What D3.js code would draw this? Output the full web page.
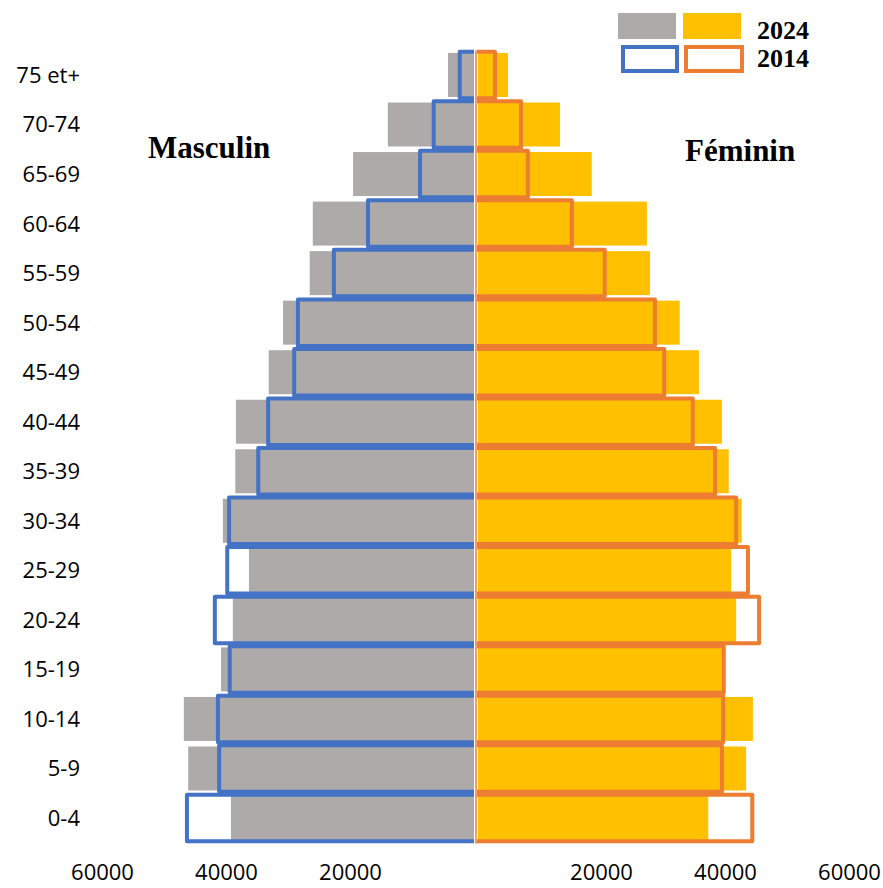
<!DOCTYPE html>
<html>
<head>
<meta charset="utf-8">
<script src="https://cdn.jsdelivr.net/npm/d3@7"></script>
<style>
  body { margin: 0; background: #fff; }
  svg { display: block; }
</style>
</head>
<body>
<svg id="chart" width="883" height="888"></svg>
<script>
// age groups, bottom to top
const ageGroups = ["0-4", "5-9", "10-14", "15-19", "20-24", "25-29", "30-34", "35-39",
  "40-44", "45-49", "50-54", "55-59", "60-64", "65-69", "70-74", "75 et+"];

// values (approx.)
const male2024 = [39200, 46100, 46800, 40800, 38900, 36300, 40500, 38500,
  38400, 33100, 30800, 26500, 26000, 19500, 13900, 4200];
const male2014 = [46300, 41100, 41300, 39400, 41800, 39800, 39500, 34800,
  33200, 29000, 28400, 22600, 17100, 8700, 6500, 2300];
const female2024 = [37300, 43400, 44500, 39600, 41800, 41000, 42700, 40600,
  39500, 35800, 32700, 27900, 27400, 18500, 13400, 5000];
const female2014 = [44400, 39500, 39700, 39800, 45500, 43700, 41800, 38400,
  34800, 30200, 28700, 20600, 15300, 8200, 7100, 2900];

const tickValues = [20000, 40000, 60000];
const legendYears = ["2024", "2014"];

const grey = "#AEAAAA", yellow = "#FFC000", blue = "#4472C4", orange = "#ED7D31";

const svg = d3.select("#chart");

// scales: men go left from the middle, women go right
const xMale = d3.scaleLinear([0, 60000], [474, 102]);
const xFemale = d3.scaleLinear([0, 60000], [477, 849]);
const y = d3.scaleBand(ageGroups.slice().reverse(), [50.2, 842.8]);
const mid = d => y(d) + y.bandwidth() / 2;

const rows = ageGroups.map((g, i) => ({
  g, m24: male2024[i], m14: male2014[i], f24: female2024[i], f14: female2014[i]
}));

// 2024 filled bars
svg.selectAll(".m24").data(rows).enter().append("rect")
  .attr("x", d => xMale(d.m24))
  .attr("y", d => mid(d.g) - 22)
  .attr("width", d => xMale(0) - xMale(d.m24))
  .attr("height", 44)
  .attr("fill", grey);

svg.selectAll(".f24").data(rows).enter().append("rect")
  .attr("x", xFemale(0) + 1)
  .attr("y", d => mid(d.g) - 22)
  .attr("width", d => xFemale(d.f24) - xFemale(0) - 1)
  .attr("height", 44)
  .attr("fill", yellow);

// 2014 outlines (open on the middle side)
const h2 = 23.25;
svg.selectAll(".m14").data(rows).enter().append("path")
  .attr("d", d => `M${xMale(0)},${mid(d.g) - h2}H${xMale(d.m14)}V${mid(d.g) + h2}H${xMale(0)}`)
  .attr("fill", "none")
  .attr("stroke", blue)
  .attr("stroke-width", 4)
  .attr("stroke-linejoin", "round");

svg.selectAll(".f14").data(rows).enter().append("path")
  .attr("d", d => `M${xFemale(0)},${mid(d.g) - h2}H${xFemale(d.f14)}V${mid(d.g) + h2}H${xFemale(0)}`)
  .attr("fill", "none")
  .attr("stroke", orange)
  .attr("stroke-width", 4)
  .attr("stroke-linejoin", "round");

// middle line
svg.append("line")
  .attr("x1", 476).attr("x2", 476)
  .attr("y1", y.range()[0]).attr("y2", y.range()[1] + 1)
  .attr("stroke", orange)
  .attr("stroke-width", 1.5);

// age labels
svg.selectAll(".age").data(ageGroups).enter().append("text")
  .attr("x", 80)
  .attr("y", d => mid(d))
  .attr("dy", "0.36em")
  .attr("text-anchor", "end")
  .style("font-family", "'Open Sans', sans-serif")
  .style("font-size", "22px")
  .attr("fill", "#000")
  .text(d => d);

// bottom axes
function styleAxis(g) {
  g.select(".domain").remove();
  g.selectAll(".tick line").remove();
  g.selectAll(".tick text")
    .attr("y", 0)
    .attr("dy", "0.36em")
    .style("font-family", "'Open Sans', sans-serif")
    .style("font-size", "22px")
    .attr("fill", "#000");
}
svg.append("g").attr("transform", "translate(0,872)")
  .call(d3.axisBottom(xMale).tickValues(tickValues).tickFormat(d3.format("d")))
  .call(styleAxis);
svg.append("g").attr("transform", "translate(0,872)")
  .call(d3.axisBottom(xFemale).tickValues(tickValues).tickFormat(d3.format("d")))
  .call(styleAxis);

// side titles
const serif = "'Liberation Serif', 'Times New Roman', serif";
svg.append("text").attr("x", 148).attr("y", 158)
  .style("font-family", serif).style("font-size", "31px").style("font-weight", "bold")
  .text("Masculin");
svg.append("text").attr("x", 685).attr("y", 161)
  .style("font-family", serif).style("font-size", "31px").style("font-weight", "bold")
  .text("Féminin");

// legend
svg.append("rect").attr("x", 618).attr("y", 13).attr("width", 58).attr("height", 26).attr("fill", grey);
svg.append("rect").attr("x", 683).attr("y", 13).attr("width", 58).attr("height", 26).attr("fill", yellow);
svg.append("rect").attr("x", 623).attr("y", 47).attr("width", 54).attr("height", 24)
  .attr("fill", "none").attr("stroke", blue).attr("stroke-width", 4);
svg.append("rect").attr("x", 686).attr("y", 47).attr("width", 56).attr("height", 24)
  .attr("fill", "none").attr("stroke", orange).attr("stroke-width", 4);
svg.selectAll(".legtxt").data(legendYears).enter().append("text")
  .attr("x", 757)
  .attr("y", (d, i) => 39 + i * 28)
  .style("font-family", serif).style("font-size", "26px").style("font-weight", "bold")
  .text(d => d);
</script>
</body>
</html>
